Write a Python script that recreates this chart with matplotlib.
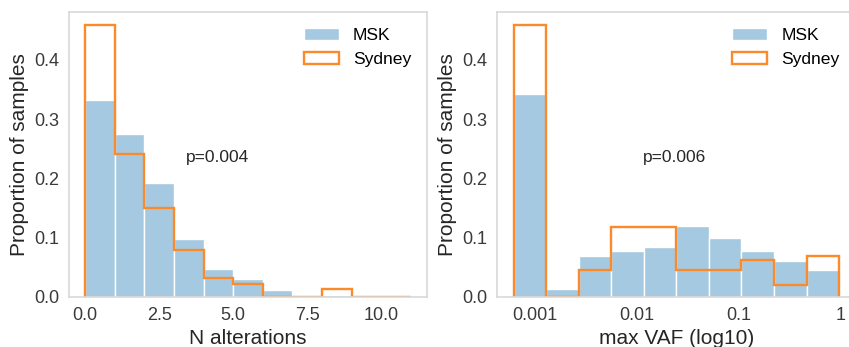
import numpy as np
import matplotlib.pyplot as plt

plt.rcParams["font.family"] = ["Liberation Sans", "DejaVu Sans"]

# number of alterations per sample, binned 0..11
n_edges = np.arange(0, 12)
msk_n = [0.333, 0.275, 0.192, 0.098, 0.047, 0.030, 0.011, 0.004, 0.004, 0.0, 0.001]
syd_n = [0.459, 0.241, 0.151, 0.079, 0.032, 0.022, 0.0, 0.0, 0.014, 0.0, 0.0]

# max VAF (log10), 10 bins
vaf_edges = np.linspace(-3.21, -0.02, 11)
msk_vaf = [0.342, 0.0135, 0.069, 0.078, 0.084, 0.119, 0.099, 0.078, 0.060, 0.045]
syd_vaf = [0.459, 0.0, 0.046, 0.118, 0.118, 0.046, 0.046, 0.062, 0.021, 0.070]

vaf_ticks = [-3, -2, -1, 0]
vaf_ticklabels = ["0.001", "0.01", "0.1", "1"]

blue = "#a5c9e1"
orange = "#fa8a2a"

fig = plt.figure(figsize=(8.49, 3.47), dpi=100)
ax1 = fig.add_axes([0.0813, 0.1441, 0.4217, 0.8213])
ax2 = fig.add_axes([0.5858, 0.1441, 0.4217, 0.8213])


def draw(ax, edges, msk, syd, ptext, px):
    centers = (edges[:-1] + edges[1:]) / 2
    ax.hist(centers, bins=edges, weights=msk, color=blue, edgecolor="white",
            linewidth=1, label="MSK")
    ax.hist(centers, bins=edges, weights=syd, histtype="step", color=orange,
            linewidth=1.7, label="Sydney")
    ax.set_ylim(0, 0.481)
    ax.set_yticks([0.0, 0.1, 0.2, 0.3, 0.4])
    ax.set_ylabel("Proportion of samples", fontsize=15, color="#262626")
    ax.text(px, 0.236, ptext, fontsize=12.5, va="center", ha="left",
            color="#262626")
    ax.legend(loc="upper right", frameon=False, fontsize=12.6)
    for s in ax.spines.values():
        s.set_color("#d9d9d9")
        s.set_linewidth(1.2)
    ax.tick_params(length=0, labelsize=13, labelcolor="#3a3a3a", pad=7)


draw(ax1, n_edges, msk_n, syd_n, "p=0.004", 3.4)
ax1.set_xlim(-0.55, 11.55)
ax1.set_xticks([0, 2.5, 5, 7.5, 10])
ax1.set_xlabel("N alterations", fontsize=15, color="#262626")

draw(ax2, vaf_edges, msk_vaf, syd_vaf, "p=0.006", -1.94)
ax2.set_xlim(-3.37, 0.14)
ax2.set_xticks(vaf_ticks)
ax2.set_xticklabels(vaf_ticklabels)
ax2.set_xlabel("max VAF (log10)", fontsize=15, color="#262626")

fig.savefig("out.png", dpi=100)
